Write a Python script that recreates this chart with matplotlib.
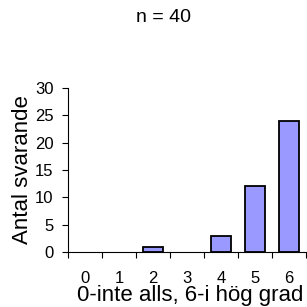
import matplotlib.pyplot as plt
import numpy as np

plt.rcParams['font.family'] = ['Liberation Sans', 'DejaVu Sans']

categories = ['0', '1', '2', '3', '4', '5', '6']
counts = [0, 0, 1, 0, 3, 12, 24]

fig = plt.figure(figsize=(3.07, 3.07), dpi=100)
ax = fig.add_axes([0.2215, 0.179, 0.776, 0.534])

x = np.arange(len(categories))
# empty categories get no outline
lw = [1.3 if c > 0 else 0 for c in counts]
ax.bar(x, counts, width=0.6, color='#9999FF', edgecolor='black', linewidth=lw)

ax.set_xlim(-0.5, len(categories) - 0.5)
ax.set_ylim(0, 30)
ax.set_yticks(range(0, 31, 5))
ax.tick_params(axis='y', labelsize=12, length=4.5, width=0.8, pad=6)

ax.set_xticks(x)
ax.set_xticklabels(categories)
ax.set_xticks(np.arange(-0.5, len(categories), 1), minor=True)
ax.tick_params(axis='x', which='major', length=0, labelsize=12, pad=14)
ax.tick_params(axis='x', which='minor', length=4, width=0.8)

for s in ['top', 'right']:
    ax.spines[s].set_visible(False)
ax.spines['left'].set_linewidth(0.8)
ax.spines['bottom'].set_linewidth(0.8)

fig.text(190 / 307, 1 - 296 / 307, '0-inte alls, 6-i hög grad',
         ha='center', va='center', fontsize=16)
fig.text(23 / 307, 1 - 170 / 307, 'Antal svarande', rotation=90,
         ha='center', va='center', fontsize=16)
fig.text(163 / 307, 1 - 17 / 307, 'n = 40', ha='center', va='center', fontsize=14)

fig.savefig('out.png', dpi=100)
